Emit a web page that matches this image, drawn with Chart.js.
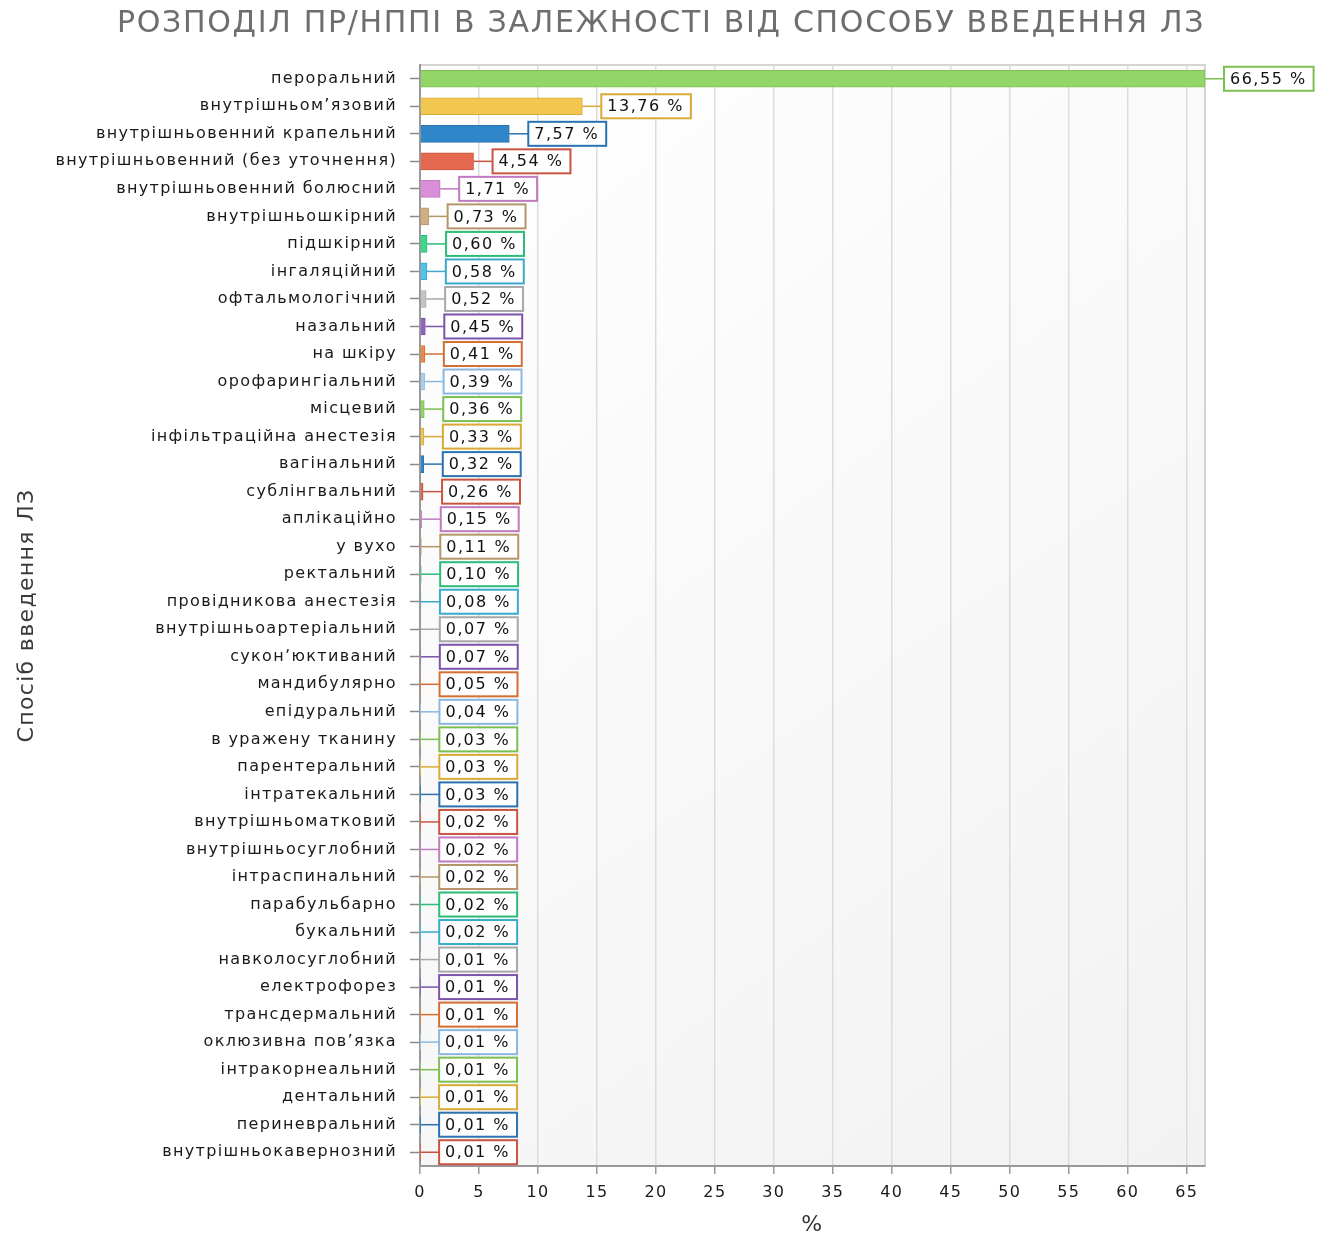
<!DOCTYPE html>
<html lang="uk">
<head>
<meta charset="utf-8">
<title>Розподіл ПР/НППІ за способом введення ЛЗ</title>
<script src="https://cdn.jsdelivr.net/npm/chart.js@4/dist/chart.umd.min.js"></script>
<style>
  html, body { margin: 0; padding: 0; background: #fff; }
  #wrap { width: 1328px; height: 1238px; }
</style>
</head>
<body>
<div id="wrap"><canvas id="routeChart" width="1328" height="1238"></canvas></div>
<script>
// заголовок і підписи осей
const chartTitle = "РОЗПОДІЛ ПР/НППІ В ЗАЛЕЖНОСТІ ВІД СПОСОБУ ВВЕДЕННЯ ЛЗ";
const yTitle = "Спосіб введення ЛЗ";
const xTitle = "%";

// способи введення (зверху вниз)
const routes = [
  "пероральний",
  "внутрішньом’язовий",
  "внутрішньовенний крапельний",
  "внутрішньовенний (без уточнення)",
  "внутрішньовенний болюсний",
  "внутрішньошкірний",
  "підшкірний",
  "інгаляційний",
  "офтальмологічний",
  "назальний",
  "на шкіру",
  "орофарингіальний",
  "місцевий",
  "інфільтраційна анестезія",
  "вагінальний",
  "сублінгвальний",
  "аплікаційно",
  "у вухо",
  "ректальний",
  "провідникова анестезія",
  "внутрішньоартеріальний",
  "суконʼюктиваний",
  "мандибулярно",
  "епідуральний",
  "в уражену тканину",
  "парентеральний",
  "інтратекальний",
  "внутрішньоматковий",
  "внутрішньосуглобний",
  "інтраспинальний",
  "парабульбарно",
  "букальний",
  "навколосуглобний",
  "електрофорез",
  "трансдермальний",
  "оклюзивна пов’язка",
  "інтракорнеальний",
  "дентальний",
  "периневральний",
  "внутрішньокавернозний",
];

// частка, %
const shares = [
  66.55, 13.76, 7.57, 4.54, 1.71, 0.73, 0.6, 0.58, 0.52, 0.45,
  0.41, 0.39, 0.36, 0.33, 0.32, 0.26, 0.15, 0.11, 0.1, 0.08,
  0.07, 0.07, 0.05, 0.04, 0.03, 0.03, 0.03, 0.02, 0.02, 0.02,
  0.02, 0.02, 0.01, 0.01, 0.01, 0.01, 0.01, 0.01, 0.01, 0.01,
];

// підписи осі X
const xTicks = [0, 5, 10, 15, 20, 25, 30, 35, 40, 45, 50, 55, 60, 65];

// палітра повторюється кожні 12 стовпців
const fillColors = [
  "#93d667", "#f2c74f", "#2f86c8", "#e4674f", "#d98ed8", "#d0ae7f",
  "#3dd68c", "#52c3e6", "#c4c4c4", "#8f65c0", "#ee8644", "#a9cfeb",
];
const edgeColors = [
  "#7cbf52", "#d9aa36", "#2a73b0", "#c95441", "#c07abf", "#b4966a",
  "#2dbb78", "#3aa9cc", "#a8a8a8", "#7a54aa", "#d46f34", "#8ab8de",
];

const FONT = "DejaVu Sans";
const SPACING = "1.35px";

// фон області побудови + заголовок
const plotDecor = {
  id: "plotDecor",
  beforeLayout(chart) {
    chart.ctx.letterSpacing = SPACING;
  },
  beforeDraw(chart) {
    const { ctx, chartArea: a } = chart;
    ctx.letterSpacing = SPACING;
    ctx.save();
    const g = ctx.createLinearGradient(a.left, a.top, a.right, a.bottom);
    g.addColorStop(0, "#ffffff");
    g.addColorStop(1, "#f2f2f2");
    ctx.fillStyle = g;
    ctx.fillRect(a.left, a.top, a.right - a.left, a.bottom - a.top);
    ctx.strokeStyle = "#d4d4d4";
    ctx.lineWidth = 2;
    ctx.beginPath();
    ctx.moveTo(a.left, a.top);
    ctx.lineTo(a.right, a.top);
    ctx.lineTo(a.right, a.bottom);
    ctx.stroke();
    ctx.restore();
  },
  afterDraw(chart) {
    const ctx = chart.ctx;
    ctx.save();
    ctx.font = `30px "${FONT}"`;
    ctx.letterSpacing = "1.7px";
    ctx.fillStyle = "#6e6e6e";
    ctx.textAlign = "center";
    ctx.textBaseline = "middle";
    ctx.fillText(chartTitle, 661, 24);
    ctx.restore();
  },
};

// рамки зі значеннями біля кінця стовпця
const valueBoxes = {
  id: "valueBoxes",
  afterDatasetsDraw(chart) {
    const ctx = chart.ctx;
    const meta = chart.getDatasetMeta(0);
    ctx.save();
    ctx.font = `16px "${FONT}"`;
    ctx.letterSpacing = "1.5px";
    ctx.textBaseline = "middle";
    meta.data.forEach((bar, i) => {
      const edge = edgeColors[i % edgeColors.length];
      const txt = shares[i].toFixed(2).replace(".", ",") + " %";
      const x0 = bar.x;
      const y = bar.y;
      const bx = x0 + 19;
      const w = ctx.measureText(txt).width + 13;
      const h = 24;
      ctx.strokeStyle = edge;
      ctx.lineWidth = 1.5;
      ctx.beginPath();
      ctx.moveTo(x0, y);
      ctx.lineTo(bx, y);
      ctx.stroke();
      ctx.fillStyle = "#ffffff";
      ctx.fillRect(bx, y - h / 2, w, h);
      ctx.lineWidth = 2;
      ctx.strokeRect(bx, y - h / 2, w, h);
      ctx.fillStyle = "#111111";
      ctx.fillText(txt, bx + 6, y + 1);
    });
    ctx.restore();
  },
};

const ctx = document.getElementById("routeChart").getContext("2d");
new Chart(ctx, {
  type: "bar",
  data: {
    labels: routes,
    datasets: [
      {
        data: shares,
        backgroundColor: routes.map((_, i) => fillColors[i % fillColors.length]),
        borderColor: routes.map((_, i) => edgeColors[i % edgeColors.length]),
        borderWidth: 1,
        barThickness: 17,
      },
    ],
  },
  options: {
    indexAxis: "y",
    responsive: false,
    animation: false,
    devicePixelRatio: 1,
    layout: { padding: { top: 65, right: 123, left: 0, bottom: 0 } },
    plugins: {
      legend: { display: false },
      tooltip: { enabled: false },
      title: { display: false },
    },
    scales: {
      x: {
        type: "linear",
        min: 0,
        max: 66.55,
        afterBuildTicks: (s) => {
          s.ticks = xTicks.map((v) => ({ value: v }));
        },
        afterFit: (s) => {
          s.height = 72;
        },
        grid: {
          color: "#dcdcdc",
          lineWidth: 1.5,
          tickLength: 8,
          tickColor: "#999999",
          tickWidth: 1.5,
        },
        border: { color: "#999999", width: 2 },
        ticks: {
          color: "#1a1a1a",
          font: { family: FONT, size: 16 },
          padding: 9,
          maxRotation: 0,
        },
        title: {
          display: true,
          text: xTitle,
          color: "#333333",
          font: { family: FONT, size: 22 },
          padding: { top: 4, bottom: 0 },
        },
      },
      y: {
        afterFit: (s) => {
          s.width = 420;
        },
        grid: {
          offset: false,
          drawOnChartArea: false,
          tickLength: 10,
          tickColor: "#8a8a8a",
          tickWidth: 1.5,
        },
        border: { color: "#999999", width: 2 },
        ticks: {
          color: "#1a1a1a",
          font: { family: FONT, size: 16 },
          padding: 13,
          autoSkip: false,
        },
        title: {
          display: true,
          text: yTitle,
          color: "#3a3a3a",
          font: { family: FONT, size: 22 },
          padding: { top: 14, bottom: 0 },
        },
      },
    },
  },
  plugins: [plotDecor, valueBoxes],
});
</script>
</body>
</html>
